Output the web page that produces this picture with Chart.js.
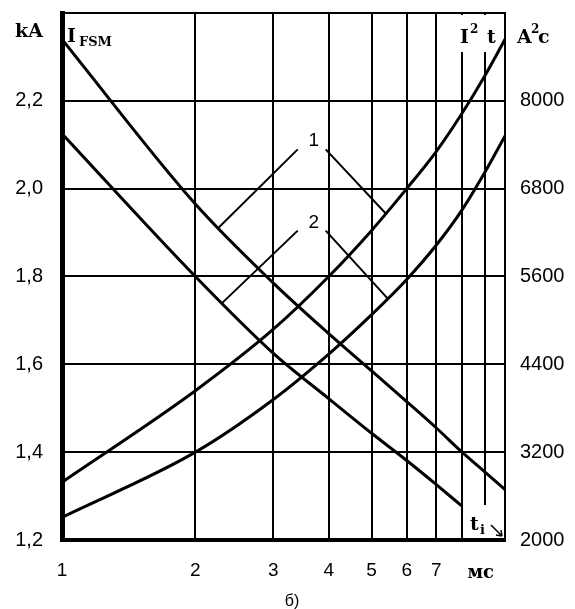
<!DOCTYPE html>
<html>
<head>
<meta charset="utf-8">
<script src="https://cdn.jsdelivr.net/npm/chart.js@4.4.0/dist/chart.umd.min.js"></script>
<style>
  html, body { margin: 0; padding: 0; background: #fff; }
  #wrap { width: 575px; height: 609px; }
</style>
</head>
<body>
<div id="wrap"><canvas id="chart" width="575" height="609"></canvas></div>
<script>
// ============== SURGE CURRENT / I2t vs PULSE TIME ==============

// pulse time, ms (log axis)
const tValues     = [1, 2, 3, 4, 5, 6, 7, 8, 9, 10];
const xTicks      = [1, 2, 3, 4, 5, 6, 7, 8, 9, 10];
const xTickLabels = ["1", "2", "3", "4", "5", "6", "7", "", "", ""];

// I_FSM, kA (left axis)
const ifsm1 = [2.34, 1.965, 1.785, 1.67, 1.585, 1.515, 1.455, 1.40, 1.355, 1.315];
const ifsm2 = [2.125, 1.80, 1.625, 1.522, 1.443, 1.381, 1.326, 1.277];   // stops at 8 ms

// I2t, A2s (right axis)
const i2t1 = [2790, 4040, 4880, 5600, 6230, 6800, 7310, 7830, 8340, 8840];
const i2t2 = [2310, 3200, 3920, 4540, 5080, 5560, 6030, 6510, 7020, 7520];

const yTicks  = [1.2, 1.4, 1.6, 1.8, 2.0, 2.2, 2.4];
const y1Ticks = [2000, 3200, 4400, 5600, 6800, 8000, 9200];

// curve markers "1" / "2" with leaders to an I_FSM curve and an I2t curve
const curveLabels = ["1", "2"];
const labelPos    = [{ x: 3.7, y: 2.11 }, { x: 3.7, y: 1.925 }];
const leaderLeft  = [{ x: 2.25, y: 1.91 }, { x: 2.3, y: 1.74 }];     // y axis
const leaderRight = [{ x: 5.4, y: 6450 }, { x: 5.45, y: 5290 }];     // y1 axis

const SANS  = '"Liberation Sans", Arial, sans-serif';
const SERIF = '"DejaVu Serif", "Liberation Serif", serif';

function pts(ys) {
  return ys.map((y, i) => ({ x: tValues[i], y }));
}

function curve(label, data, axis) {
  return {
    label,
    data,
    yAxisID: axis,
    borderColor: "#000",
    borderWidth: 3,
    pointRadius: 0,
    fill: false,
    cubicInterpolationMode: "monotone"
  };
}

// no extra room for half-labels at the ends of the axes
function noPad(s) {
  s.paddingTop = 0;
  s.paddingBottom = 0;
  s.paddingLeft = 0;
  s.paddingRight = 0;
}

const decorPlugin = {
  id: "decor",
  beforeDatasetsDraw(chart) {
    // gaps in grid lines under the I2t and t_i captions
    const ctx = chart.ctx;
    const a = chart.chartArea;
    ctx.save();
    ctx.fillStyle = "#fff";
    ctx.fillRect(a.right - 53, a.top + 2, 51, 37);
    ctx.fillRect(a.right - 31, a.bottom - 35, 29, 33);
    ctx.restore();
  },
  afterDraw(chart) {
    const ctx = chart.ctx;
    const a = chart.chartArea;
    const sx = chart.scales.x, sy = chart.scales.y, sy1 = chart.scales.y1;
    ctx.save();
    ctx.fillStyle = "#000";
    ctx.strokeStyle = "#000";
    ctx.textBaseline = "alphabetic";
    ctx.textAlign = "left";

    // left axis title
    ctx.font = "bold 19px " + SERIF;
    ctx.fillText("kA", 15, 37);
    ctx.fillText("I", a.left + 5, 42);
    ctx.font = "bold 13px " + SERIF;
    ctx.fillText("FSM", a.left + 17, 46);

    // right axis title
    ctx.font = "bold 19px " + SERIF;
    ctx.fillText("I", a.right - 45, 43);
    ctx.fillText("t", a.right - 18, 43);
    ctx.fillText("A", a.right + 12, 43);
    ctx.fillText("c", a.right + 33, 43);
    ctx.font = "bold 12px " + SERIF;
    ctx.fillText("2", a.right - 35, 33);
    ctx.fillText("2", a.right + 26, 33);

    // t_i with arrow into the corner
    ctx.font = "bold 19px " + SERIF;
    ctx.fillText("t", a.right - 35, a.bottom - 10);
    ctx.font = "bold 13px " + SERIF;
    ctx.fillText("i", a.right - 25, a.bottom - 6);
    ctx.lineWidth = 1.5;
    ctx.beginPath();
    ctx.moveTo(a.right - 14, a.bottom - 15);
    ctx.lineTo(a.right - 3, a.bottom - 4);
    ctx.moveTo(a.right - 3, a.bottom - 4);
    ctx.lineTo(a.right - 9, a.bottom - 5);
    ctx.moveTo(a.right - 3, a.bottom - 4);
    ctx.lineTo(a.right - 4, a.bottom - 10);
    ctx.stroke();

    // x unit
    ctx.font = "bold 18px " + SERIF;
    ctx.textAlign = "center";
    ctx.fillText("мс", sx.getPixelForValue(9) - 4, a.bottom + 38);

    // subfigure mark
    ctx.font = "16px " + SANS;
    ctx.fillText("б)", 292, 606);

    // curve markers and leaders
    ctx.lineWidth = 2;
    ctx.font = "19px " + SANS;
    curveLabels.forEach((txt, i) => {
      const lx = sx.getPixelForValue(labelPos[i].x);
      const ly = sy.getPixelForValue(labelPos[i].y);
      const l = leaderLeft[i], r = leaderRight[i];
      ctx.fillText(txt, lx, ly + 6);
      ctx.beginPath();
      ctx.moveTo(lx - 16, ly + 9);
      ctx.lineTo(sx.getPixelForValue(l.x), sy.getPixelForValue(l.y));
      ctx.moveTo(lx + 12, ly + 9);
      ctx.lineTo(sx.getPixelForValue(r.x), sy1.getPixelForValue(r.y));
      ctx.stroke();
    });
    ctx.restore();
  }
};

const ctxEl = document.getElementById("chart");
new Chart(ctxEl, {
  type: "line",
  data: {
    datasets: [
      curve("I_FSM 1", pts(ifsm1), "y"),
      curve("I_FSM 2", pts(ifsm2), "y"),
      curve("I2t 1", pts(i2t1), "y1"),
      curve("I2t 2", pts(i2t2), "y1")
    ]
  },
  options: {
    responsive: false,
    animation: false,
    layout: { padding: { top: 13, left: 0, right: 0, bottom: 0 } },
    plugins: {
      legend: { display: false },
      tooltip: { enabled: false }
    },
    scales: {
      x: {
        type: "logarithmic",
        min: 1,
        max: 10,
        afterBuildTicks: s => { s.ticks = xTicks.map(v => ({ value: v })); },
        afterFit: s => { s.height = 69; noPad(s); },
        ticks: {
          autoSkip: false,
          maxRotation: 0,
          padding: 19,
          color: "#000",
          font: { family: SANS, size: 19 },
          callback: (v, i) => xTickLabels[i]
        },
        grid: { color: "#000", lineWidth: 2, drawTicks: false },
        border: { color: "#000", width: 4 }
      },
      y: {
        position: "left",
        min: 1.2,
        max: 2.4,
        afterBuildTicks: s => { s.ticks = yTicks.map(v => ({ value: v })); },
        afterFit: s => { s.width = 62; noPad(s); },
        ticks: {
          padding: 19,
          color: "#000",
          font: { family: SANS, size: 20 },
          callback: v => (v >= 2.39 ? "" : v.toFixed(1).replace(".", ","))
        },
        grid: { color: "#000", lineWidth: 2, drawTicks: false },
        border: { color: "#000", width: 5 }
      },
      y1: {
        position: "right",
        min: 2000,
        max: 9200,
        afterBuildTicks: s => { s.ticks = y1Ticks.map(v => ({ value: v })); },
        afterFit: s => { s.width = 70; noPad(s); },
        ticks: {
          padding: 15,
          color: "#000",
          font: { family: SANS, size: 20 },
          callback: v => (v >= 9200 ? "" : String(v))
        },
        grid: { drawOnChartArea: false, drawTicks: false },
        border: { color: "#000", width: 2 }
      }
    }
  },
  plugins: [decorPlugin]
});
</script>
</body>
</html>
